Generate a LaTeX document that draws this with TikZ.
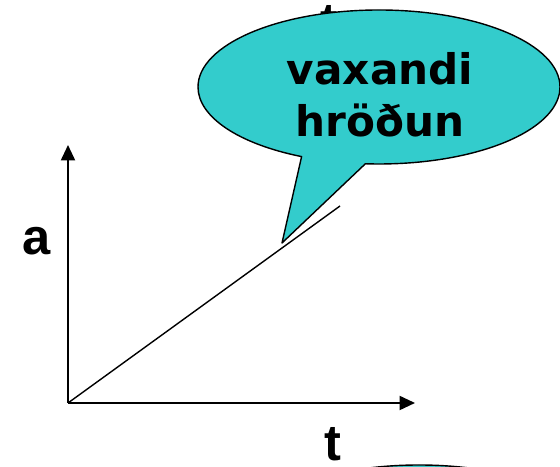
\documentclass[tikz,border=0pt]{standalone}
\usepackage{fontspec}
\setmainfont{DejaVu Sans}
\newfontfamily\axisfont{Liberation Sans}
\usetikzlibrary{arrows.meta,shapes.callouts,shapes.geometric}
\definecolor{bubblecyan}{HTML}{33CCCC}

\begin{document}
\begin{tikzpicture}[line join=round,
    axis/.style={line width=1.4pt, -{Triangle[length=11pt,width=10pt]}},
    axlabel/.style={font=\axisfont\bfseries\fontsize{36}{40}\selectfont, inner sep=0pt, anchor=base},
    bubble/.style={draw, line width=1pt, fill=bubblecyan, minimum width=9.05cm, minimum height=3.85cm, inner sep=0pt}]
    \clip (0,0) rectangle (14,11.675);
    \coordinate (O) at (1.7,1.6);
    \coordinate (Y) at (1.7,8.05);
    \coordinate (X) at (10.375,1.6);
    \coordinate (E) at (8.5,6.525);
    \coordinate (tip) at (7.05,5.6);
    % tekst sem hverfur bak við blöðruna
    \node[axlabel] (ttop) at (8.225,10.7) {t};
    \draw[axis] (O) -- (Y);
    \draw[axis] (O) -- (X);
    \draw[line width=1pt] (O) -- (E);
    \node[axlabel] (alabel) at (0.925,5.3) {a};
    \node[axlabel] (tlabel) at (8.325,0.15) {t};
    % talblaðran
    \node[bubble, ellipse callout, callout absolute pointer={(tip)}, callout pointer arc=21] (callout) at (9.475,9.5) {};
    \node[font=\bfseries\fontsize{30}{37}\selectfont, align=center] (ctext) at (9.5,9.3) {vaxandi\\hröðun};
    \node[bubble, ellipse] (nextbubble) at (10.475,-1.875) {};
\end{tikzpicture}
\end{document}
